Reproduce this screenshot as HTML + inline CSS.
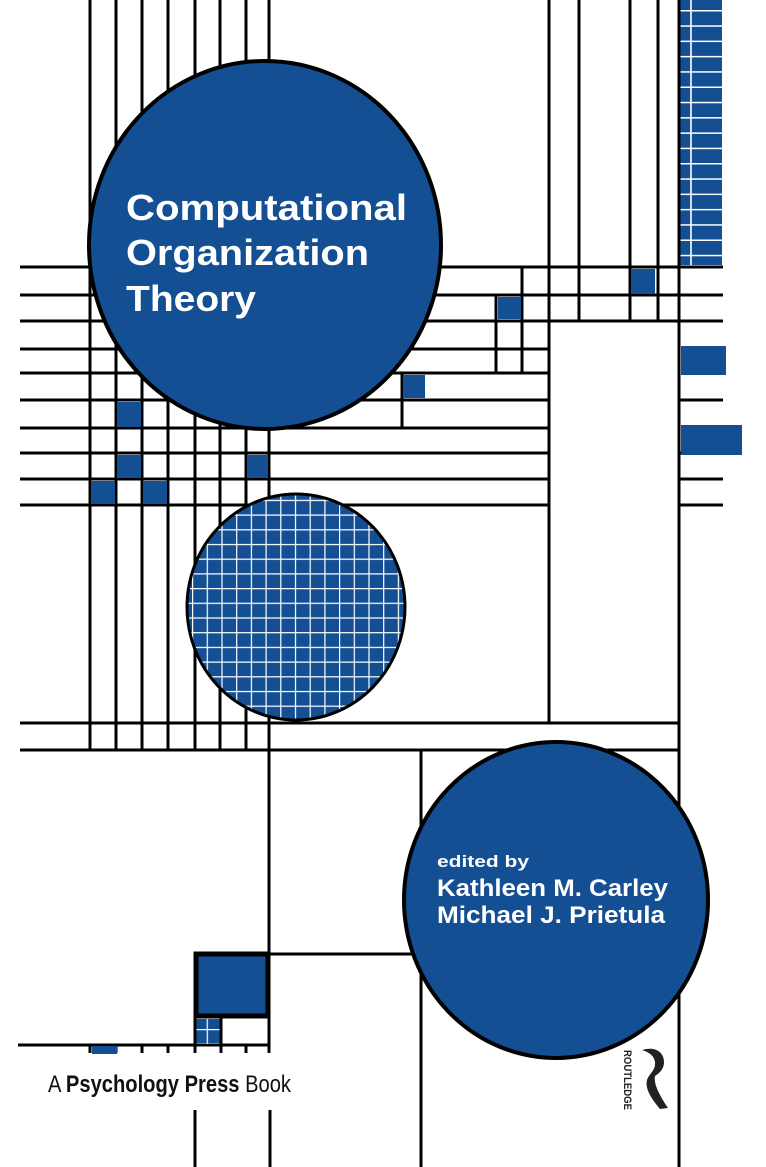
<!DOCTYPE html>
<html><head><meta charset="utf-8"><style>
html,body{margin:0;padding:0;background:#fff}
svg{display:block}
</style></head><body>
<svg width="766" height="1167" viewBox="0 0 766 1167" xmlns="http://www.w3.org/2000/svg">
<defs>
<pattern id="grid" x="192" y="0" width="14.7" height="14.7" patternUnits="userSpaceOnUse">
<rect width="14.7" height="14.7" fill="#134f92"/>
<path d="M0 0.5H14.7M0.5 0V14.7" stroke="#fff" stroke-width="1.4"/>
</pattern>
<pattern id="col" x="0" y="10" width="60" height="15.3" patternUnits="userSpaceOnUse">
<rect width="60" height="15.3" fill="#134f92"/>
<path d="M0 0.7H60" stroke="#fff" stroke-width="1.6"/>
</pattern>
</defs>
<rect width="766" height="1167" fill="#fff"/>
<!-- blue column top right -->
<rect x="679" y="0" width="43" height="265" fill="url(#col)"/>
<line x1="691" y1="0" x2="691" y2="265" stroke="#fff" stroke-width="1.6"/>
<g stroke="#000" stroke-width="3" fill="none">
<!-- top verticals -->
<path d="M90 0V750M116 0V750M142 0V750M168 0V750M195 0V750M220 0V750M246 0V750M269 0V750"/>
<path d="M549 0V723M579 0V321M630 0V321M658 0V321M679 0V1167"/>
<path d="M496 295V373M522 268V373M402 373V427"/>
<!-- horizontals -->
<path d="M20 267H723M20 295H723M20 321H723"/>
<path d="M20 349H549M20 373H549M20 400H549M20 428H549M20 453H549M20 479H549M20 505H549"/>
<path d="M679 400H723M679 453H723M679 479H723M679 505H723"/>
<path d="M20 723H679M20 750H679"/>
<!-- bottom area -->
<path d="M269 750V1053M421 750V1167M195 954H415"/>
<path d="M18 1045H270"/>
<path d="M90 1045V1053M116 1045V1053M142 1045V1053M168 1045V1053M195 1045V1053M221 1045V1053M246 1045V1053"/>
<path d="M195 1110V1167M270 1110V1167"/>
</g>
<!-- small blue squares -->
<g fill="#134f92">
<rect x="631" y="269" width="24" height="25"/>
<rect x="498" y="297" width="23" height="22"/>
<rect x="403" y="375" width="22" height="23"/>
<rect x="117" y="402" width="24" height="25"/>
<rect x="117" y="455" width="24" height="23"/>
<rect x="91" y="481" width="24" height="23"/>
<rect x="143" y="481" width="24" height="23"/>
<rect x="247" y="455" width="21" height="23"/>
<rect x="681" y="346" width="45" height="29"/>
<rect x="681" y="425" width="61" height="30"/>
<rect x="92" y="1046" width="25" height="8"/>
</g>
<!-- big square -->
<rect x="196" y="954" width="72" height="62" fill="#134f92" stroke="#000" stroke-width="5"/>
<rect x="196" y="1019" width="25" height="25" fill="url(#grid)"/>
<path d="M195 1018V1046M221 1018V1046M269 1018V1046" stroke="#000" stroke-width="3"/>
<!-- ellipses -->
<ellipse cx="265" cy="245" rx="176" ry="184" fill="#134f92" stroke="#000" stroke-width="4"/>
<ellipse cx="296" cy="607" rx="109" ry="113" fill="url(#grid)" stroke="#000" stroke-width="3"/>
<ellipse cx="556" cy="900" rx="152" ry="158" fill="#134f92" stroke="#000" stroke-width="4"/>
<!-- titles -->
<g font-family="Liberation Sans, sans-serif" font-weight="bold" fill="#fff">
<text x="126" y="220" font-size="36" textLength="281" lengthAdjust="spacingAndGlyphs">Computational</text>
<text x="126" y="265" font-size="36" textLength="243" lengthAdjust="spacingAndGlyphs">Organization</text>
<text x="126" y="311" font-size="36" textLength="130" lengthAdjust="spacingAndGlyphs">Theory</text>
<text x="437" y="867" font-size="17" textLength="92" lengthAdjust="spacingAndGlyphs">edited by</text>
<text x="437" y="896" font-size="24" textLength="231" lengthAdjust="spacingAndGlyphs">Kathleen M. Carley</text>
<text x="437" y="923" font-size="24" textLength="228" lengthAdjust="spacingAndGlyphs">Michael J. Prietula</text>
</g>
<text x="48" y="1092" font-family="Liberation Sans, sans-serif" font-size="24" fill="#111" textLength="243" lengthAdjust="spacingAndGlyphs"><tspan>A </tspan><tspan font-weight="bold">Psychology Press</tspan><tspan> Book</tspan></text>
<!-- routledge logo -->
<text transform="translate(624,1050) rotate(90)" font-family="Liberation Sans, sans-serif" font-weight="bold" font-size="11" fill="#222" textLength="60" lengthAdjust="spacingAndGlyphs">ROUTLEDGE</text>
<path d="M642 1050 C655 1046 664 1052 664 1062 C664 1070 658 1074 655 1076 C654 1082 656 1090 668 1108 L660 1109 C650 1097 645 1088 647 1080 C649 1074 656 1070 655 1062 C654 1055 648 1052 642 1050Z" fill="#222"/>
</svg>
</body></html>
